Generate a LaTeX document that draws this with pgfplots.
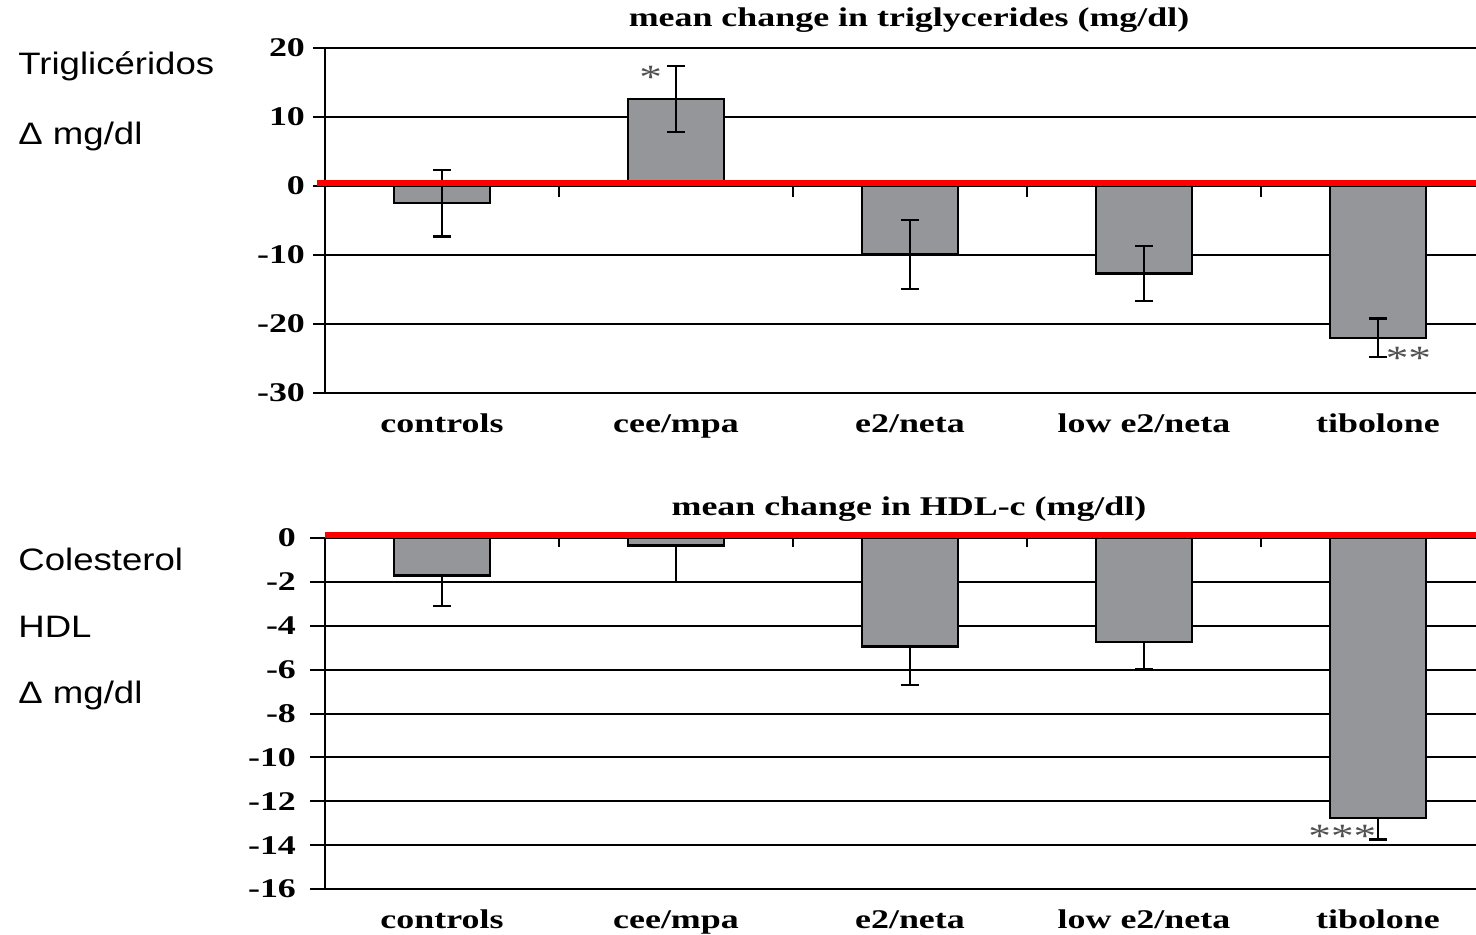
\documentclass[border=0pt]{standalone}
\usepackage{fontspec}
\usepackage{pgfplots}
\pgfplotsset{compat=1.18}
\setmainfont{Liberation Serif}
\newfontfamily\wideserif[FakeStretch=1.33]{Liberation Serif}
\newfontfamily\widesans[FakeStretch=1.18]{Liberation Sans}
\definecolor{bargray}{RGB}{148,150,153}
\definecolor{stargray}{RGB}{80,80,80}
\newcommand\axfont{\wideserif\bfseries\fontsize{13.5}{16}\selectfont}
\newcommand\starfont{\wideserif\fontsize{17}{18}\selectfont}
\newcommand\sidefont{\widesans\fontsize{15.5}{18}\selectfont}

\pgfplotsset{
  panel/.style={
    scale only axis, anchor=south west, width=575.5pt,
    xmin=-0.5, xmax=4.419, clip=false,
    axis x line*=bottom, axis y line*=left,
    axis line style={black, line width=1.3pt},
    xtick={0,1,2,3,4},
    xticklabels={controls, cee/mpa, e2/neta, low e2/neta, tibolone},
    xtick align=inside, x tick style={draw=none},
    ytick pos=left, ytick align=outside,
    y tick style={black, line width=1pt},
    ymajorgrids, major grid style={black, line width=1pt},
    tick label style={font=\axfont},
    /pgf/number format/assume math mode=true,
    x tick label style={anchor=base, yshift=-19.5pt},
  },
  bars/.style={
    ybar, bar width=48pt, fill=bargray, draw=black, line width=1.2pt,
    error bars/.cd, y dir=#1, y explicit,
    error bar style={black, line width=1.2pt},
    error mark options={rotate=90, mark size=4.5pt, line width=1.2pt, black},
  },
}

\begin{document}
\begin{tikzpicture}
% Triglycerides
\begin{axis}[panel, at={(162.5pt,270.5pt)}, height=172.5pt,
  ymin=-30, ymax=20, ytick={-30,-20,...,20}, major tick length=6pt,
  y tick label style={xshift=-0.5pt}]
  \addplot[bars=both] coordinates {
    (0,-2.5)  +- (0,4.8)
    (1,12.6)  +- (0,4.8)
    (2,-9.9)  +- (0,5.0)
    (3,-12.7) +- (0,4.0)
    (4,-22.0) +- (0,2.8)
  };
  % group separators on the zero line
  \pgfplotsinvokeforeach{0.5,1.5,2.5,3.5}{
    \draw[black, line width=1pt] (axis cs:#1,0) -- ([yshift=-5.5pt]axis cs:#1,0);
  }
  \draw[red, line width=2.9pt, yshift=1.4pt] ([xshift=-4pt]axis cs:-0.5,0) -- (axis cs:4.419,0);
  \node[font=\starfont, text=stargray] at (axis cs:0.892,15.8) {*};
  \node[font=\starfont, text=stargray] at (axis cs:4.13,-25.0) {**};
\end{axis}
% HDL cholesterol
\begin{axis}[panel, at={(162.5pt,22.5pt)}, height=175.5pt,
  ymin=-16, ymax=0, ytick={-16,-14,...,0}, major tick length=7.5pt,
  y tick label style={xshift=-3.5pt}]
  \addplot[bars=minus] coordinates {
    (0,-1.7)   +- (0,1.4)
    (1,-0.35)  +- (0,1.65)
    (2,-4.95)  +- (0,1.75)
    (3,-4.75)  +- (0,1.25)
    (4,-12.75) +- (0,1.0)
  };
  \pgfplotsinvokeforeach{0.5,1.5,2.5,3.5}{
    \draw[black, line width=1pt] (axis cs:#1,0) -- ([yshift=-4.5pt]axis cs:#1,0);
  }
  \draw[red, line width=2.9pt, yshift=1.5pt] (axis cs:-0.5,0) -- (axis cs:4.419,0);
  \node[font=\starfont, text=stargray] at (axis cs:3.848,-13.6) {***};
\end{axis}
% panel titles
\node[font=\axfont, anchor=base, inner sep=0pt] at (454.5pt,453.5pt) {mean change in triglycerides (mg/dl)};
\node[font=\axfont, anchor=base, inner sep=0pt] at (454.5pt,209.5pt) {mean change in HDL-c (mg/dl)};
% side labels
\begin{scope}[every node/.style={font=\sidefont, anchor=base west, inner sep=0pt}]
  \node at (9pt,429.5pt) {Triglicéridos};
  \node at (9pt,395pt) {Δ mg/dl};
  \node at (9pt,182pt) {Colesterol};
  \node at (9pt,148.5pt) {HDL};
  \node at (9pt,115.5pt) {Δ mg/dl};
\end{scope}
\pgfresetboundingbox
\useasboundingbox (0,0) rectangle (738pt,467pt);
\end{tikzpicture}
\end{document}
